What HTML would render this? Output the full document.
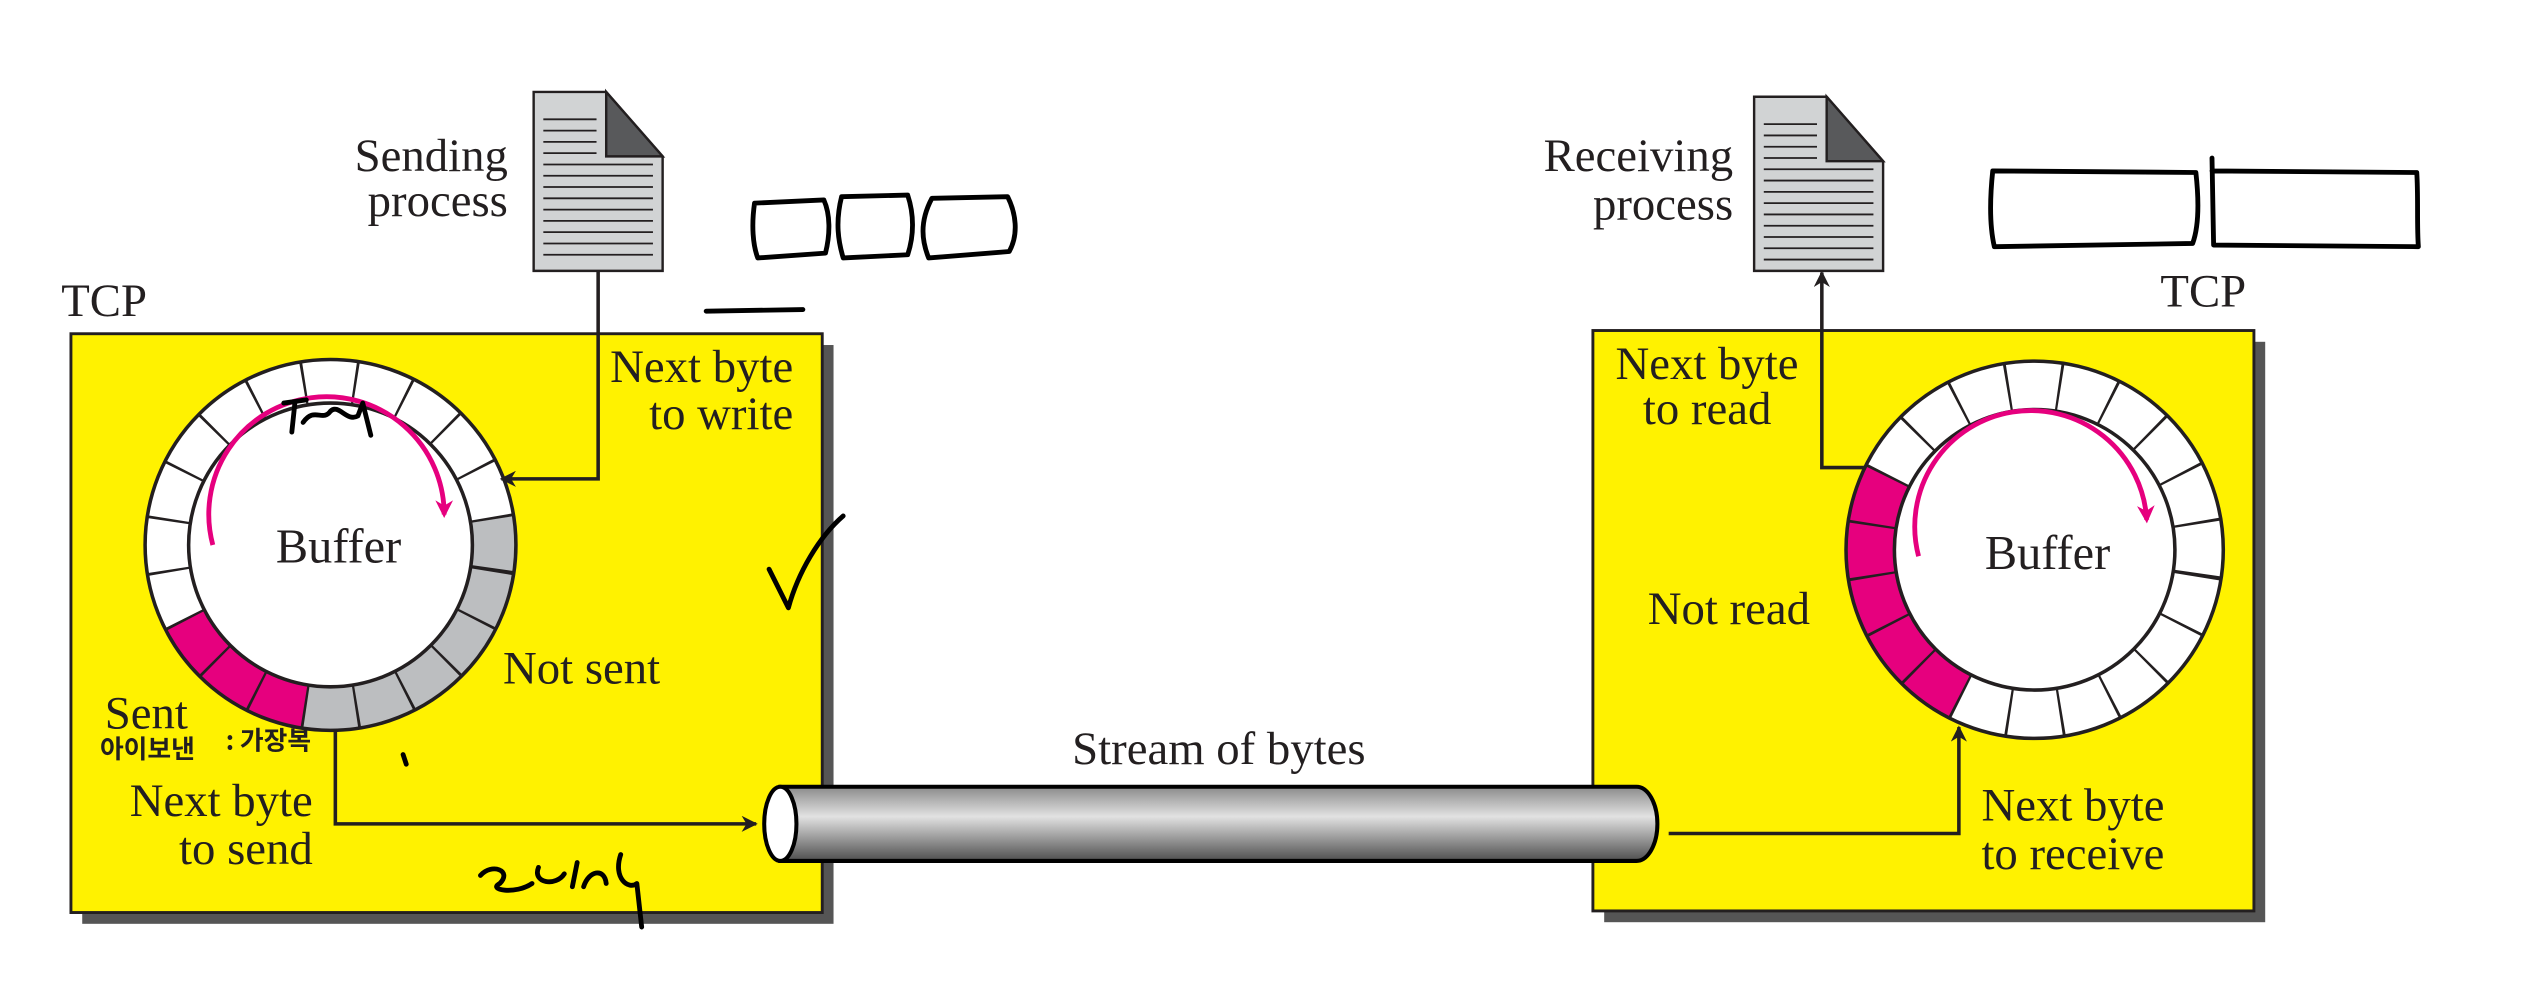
<!DOCTYPE html>
<html><head><meta charset="utf-8"><style>
html,body{margin:0;padding:0;background:#fff;}
svg{display:block;}
text{font-family:"Liberation Serif",serif;fill:#231f20;}
</style></head><body>
<svg width="2528" height="1000" viewBox="0 0 1568 620.25" xmlns="http://www.w3.org/2000/svg">
<defs>
<marker id="ah" viewBox="0 0 10 10" refX="9" refY="5" markerWidth="10" markerHeight="10" orient="auto" markerUnits="userSpaceOnUse"><path d="M0,0 L10,5 L0,10 L3,5 z" fill="#231f20"/></marker>
<marker id="ahp" viewBox="0 0 10 10" refX="8" refY="5" markerWidth="11" markerHeight="11" orient="auto" markerUnits="userSpaceOnUse"><path d="M0,0 L10,5 L0,10 L3,5 z" fill="#e6007e"/></marker>
<linearGradient id="pipe" x1="0" y1="0" x2="0" y2="1">
<stop offset="0" stop-color="#8a8a8a"/><stop offset="0.4" stop-color="#e2e2e2"/><stop offset="1" stop-color="#4e4e4e"/>
</linearGradient>
</defs>

<rect x="51" y="214" width="466" height="359" fill="#555"/>
<rect x="44" y="207" width="466" height="359" fill="#fff200" stroke="#231f20" stroke-width="1.8"/>
<rect x="995" y="212" width="410" height="360" fill="#555"/>
<rect x="988" y="205" width="410" height="360" fill="#fff200" stroke="#231f20" stroke-width="1.8"/>

<!-- left ring -->
<circle cx="205" cy="338" r="101.5" fill="none" stroke="#fff" stroke-width="27"/>
<circle cx="205" cy="338" r="101.5" fill="none" stroke="#bcbec0" stroke-width="27" pathLength="360" stroke-dasharray="108 360" transform="rotate(-9 205 338)"/>
<circle cx="205" cy="338" r="101.5" fill="none" stroke="#e6007e" stroke-width="27" pathLength="360" stroke-dasharray="54 360" transform="rotate(99 205 338)"/>
<circle cx="205" cy="338" r="101.5" fill="none" stroke="#231f20" stroke-width="27" pathLength="360" stroke-dasharray="0.9 17.1" stroke-dashoffset="0.45" transform="rotate(9 205 338)"/>
<circle cx="205" cy="338" r="115" fill="none" stroke="#231f20" stroke-width="2.2"/>
<circle cx="205" cy="338" r="88" fill="#fff" stroke="#231f20" stroke-width="2.2"/>
<path d="M132,338 A73,73 0 1 1 275.5,319.1" fill="none" stroke="#e6007e" stroke-width="3" marker-end="url(#ahp)"/>
<text x="210" y="349" font-size="30" text-anchor="middle">Buffer</text>

<!-- right ring -->
<circle cx="1262" cy="341" r="102" fill="none" stroke="#fff" stroke-width="30"/>
<circle cx="1262" cy="341" r="102" fill="none" stroke="#e6007e" stroke-width="30" pathLength="360" stroke-dasharray="90 360" transform="rotate(117 1262 341)"/>
<circle cx="1262" cy="341" r="102" fill="none" stroke="#231f20" stroke-width="30" pathLength="360" stroke-dasharray="0.9 17.1" stroke-dashoffset="0.45" transform="rotate(9 1262 341)"/>
<circle cx="1262" cy="341" r="117" fill="none" stroke="#231f20" stroke-width="2.2"/>
<circle cx="1262" cy="341" r="87" fill="#fff" stroke="#231f20" stroke-width="2.2"/>
<path d="M1190,345 A72,72 0 1 1 1331.5,322.4" fill="none" stroke="#e6007e" stroke-width="3" marker-end="url(#ahp)"/>
<text x="1270" y="353" font-size="30" text-anchor="middle">Buffer</text>

<g stroke="#231f20" stroke-width="1.5">
<path d="M331,57 L376,57 L411,97 L411,168 L331,168 z" fill="#d1d3d4"/>
<path d="M376,57 L411,97 L376,97 z" fill="#58595b"/>
<path d="M1088,60 L1133,60 L1168,100 L1168,168 L1088,168 z" fill="#d1d3d4"/>
<path d="M1133,60 L1168,100 L1133,100 z" fill="#58595b"/>
</g>
<g stroke="#231f20" stroke-width="1.1">
<path d="M337,74h33M337,81h33M337,88h33M337,95h33M337,102h68M337,109h68M337,116h68M337,123h68M337,130h68M337,137h68M337,144h68M337,151h68M337,158h68"/>
<path d="M1094,77h33M1094,84h33M1094,91h33M1094,98h33M1094,105h68M1094,112h68M1094,119h68M1094,126h68M1094,133h68M1094,140h68M1094,147h68M1094,154h68M1094,161h68"/>
</g>

<g fill="none" stroke="#231f20" stroke-width="2.2">
<path d="M371,168 V297 H311" marker-end="url(#ah)"/>
<path d="M208,453 V511 H469" marker-end="url(#ah)"/>
<path d="M1157,290 H1130 V169" marker-end="url(#ah)"/>
<path d="M1035,517 H1215 V451" marker-end="url(#ah)"/>
</g>

<path d="M484,488 H1015 A13,23 0 0 1 1015,534 H484 z" fill="url(#pipe)" stroke="#000" stroke-width="2.5"/>
<ellipse cx="484" cy="511" rx="10" ry="23" fill="#fff" stroke="#000" stroke-width="2.5"/>

<g font-size="29">
<text x="315" y="106" text-anchor="end">Sending</text>
<text x="315" y="134" text-anchor="end">process</text>
<text x="38" y="196">TCP</text>
<text x="492" y="237" text-anchor="end">Next byte</text>
<text x="492" y="266" text-anchor="end">to write</text>
<text x="312" y="424">Not sent</text>
<text x="65" y="452">Sent</text>
<text x="194" y="506" text-anchor="end">Next byte</text>
<text x="194" y="536" text-anchor="end">to send</text>
<text x="756" y="474" text-anchor="middle">Stream of bytes</text>
<text x="1075" y="106" text-anchor="end">Receiving</text>
<text x="1075" y="136" text-anchor="end">process</text>
<text x="1340" y="190">TCP</text>
<text x="1002" y="235">Next byte</text>
<text x="1019" y="263">to read</text>
<text x="1022" y="387">Not read</text>
<text x="1229" y="509">Next byte</text>
<text x="1229" y="539">to receive</text>
</g>

<g fill="none" stroke="#000" stroke-width="3" stroke-linecap="round" stroke-linejoin="round">
<path d="M468,126 C466,140 467,152 470,160 L512,157 C515,145 515,133 511,124 Z"/>
<path d="M522,122 C518,138 520,150 523,160 L563,158 C567,146 567,133 563,121 Z"/>
<path d="M578,123 C570,138 572,150 576,160 L626,156 C632,145 630,132 625,122 Z"/>
<path d="M438,193 L498,192"/>
<path d="M1236,106 C1234,125 1234,140 1237,153 L1360,151 C1364,140 1364,125 1362,107 Z"/>
<path d="M1372,98 L1373,152 L1500,153 C1499,140 1500,122 1499,107 L1372,106"/>
<path d="M477,353 L489,377 C495,355 508,333 523,320"/>
<path d="M298,543 C305,535 318,540 310,548 C302,552 320,555 330,548 M334,538 C330,548 345,550 350,542 M355,550 L358,535 M362,550 C365,540 375,538 376,548 M385,530 C380,545 390,552 395,548 L398,575"/>
<path d="M176,250 L190,248 M183,249 L181,268 M188,262 C195,252 200,262 205,255 C210,250 215,262 222,258 L225,250 L230,270"/>
<path d="M250,468 L252,474"/>
</g>
<g font-size="16" font-weight="bold">
<text x="62" y="470" style="font-family:'Noto Sans CJK KR',sans-serif">아이보낸</text>
<text x="140" y="465" style="font-family:'Noto Sans CJK KR',sans-serif">: 가장복</text>
</g>
</svg>
</body></html>
